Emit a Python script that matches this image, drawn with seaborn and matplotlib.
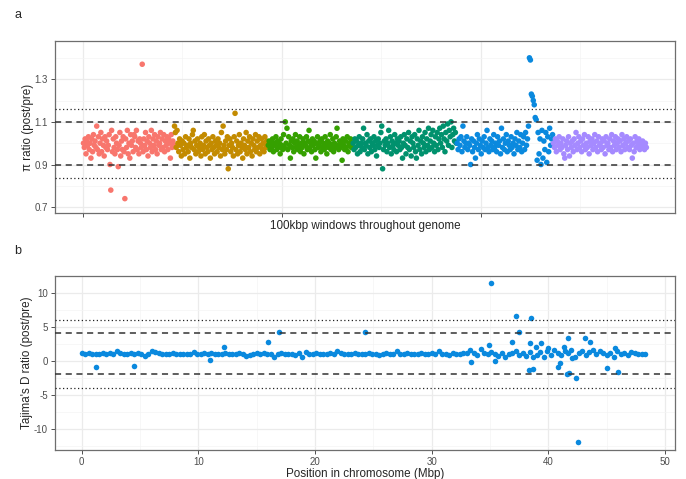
import numpy as np
import pandas as pd
import seaborn as sns
import matplotlib.pyplot as plt
from matplotlib.ticker import MultipleLocator, FixedLocator, NullFormatter

# ---------------- panel a: pi ratio in 100kbp windows ----------------
chrom_names = ['chr1', 'chr2', 'chr3', 'chr4', 'chr5', 'chr6']
chrom_windows = [458, 472, 427, 523, 485, 472]   # windows per chromosome
chrom_colors = ['#F8766D', '#C38B00', '#35A000', '#00916D', '#0A89DE', '#A58AFF']

pi_chr1 = [1.00, 0.98, 1.02, 0.95, 1.01, 0.99, 1.03, 0.97, 1.00, 0.93,
           1.02, 0.96, 1.04, 0.99, 1.01, 0.98, 1.08, 0.97, 1.03, 0.95,
           1.00, 1.05, 0.96, 1.02, 0.99, 0.94, 1.03, 0.98, 1.01, 0.97,
           0.99, 1.04, 0.90, 0.78, 1.06, 0.96, 1.02, 0.98, 0.95, 1.03,
           1.00, 0.97, 0.89, 0.99, 1.05, 0.94, 1.01, 0.97, 1.03, 0.96,
           0.74, 1.02, 0.98, 1.06, 0.95, 1.00, 0.93, 1.04, 0.99, 1.01,
           0.96, 1.04, 1.03, 0.98, 1.06, 0.97, 1.01, 0.95, 1.02, 1.00,
           0.98, 1.37, 0.96, 1.02, 0.99, 1.05, 0.97, 1.01, 0.94, 1.03,
           1.00, 0.98, 1.06, 0.96, 1.02, 0.99, 1.04, 0.97, 1.01, 0.95,
           1.03, 0.99, 1.00, 1.05, 0.97, 1.02, 0.98, 1.04, 0.96, 1.01,
           0.99, 1.03, 0.97, 1.02, 1.00, 0.93, 1.04, 0.98, 1.01, 0.99]
pi_chr2 = [1.08, 1.05, 0.98, 1.06, 1.00, 0.96, 1.02, 0.99, 0.94, 1.01,
           0.97, 1.00, 0.95, 1.03, 0.98, 0.99, 0.96, 1.02, 0.93, 1.00,
           0.98, 1.04, 1.06, 0.97, 1.01, 0.95, 0.99, 1.02, 0.96, 0.98,
           1.00, 0.94, 1.03, 0.97, 0.99, 1.04, 0.95, 1.01, 0.98, 0.96,
           1.02, 0.99, 0.93, 1.00, 0.97, 1.03, 0.98, 0.95, 1.01, 0.99,
           0.96, 1.02, 0.98, 1.00, 0.94, 1.05, 0.97, 1.08, 0.99, 0.95,
           1.01, 0.97, 1.03, 0.88, 0.99, 1.02, 0.96, 1.00, 0.98, 0.94,
           1.03, 1.14, 0.97, 1.01, 0.95, 0.99, 1.04, 0.96, 1.00, 0.98,
           0.93, 1.02, 0.99, 0.97, 1.05, 0.95, 1.01, 0.98, 1.03, 0.96,
           1.00, 0.94, 1.02, 0.99, 0.97, 1.04, 0.96, 1.01, 0.98, 1.03,
           0.95, 0.99, 1.02, 0.97, 1.00, 0.96, 1.03, 0.98, 1.01, 0.99]
pi_chr3 = [0.99, 1.01, 0.97, 1.00, 0.98, 1.02, 0.96, 1.00, 0.99, 1.03,
           0.97, 1.01, 0.98, 1.00, 0.95, 1.02, 0.99, 0.97, 1.04, 0.98,
           1.10, 1.00, 1.07, 0.97, 1.03, 0.99, 0.93, 1.01, 0.98, 1.02,
           0.96, 1.00, 1.04, 0.98, 1.01, 0.97, 0.99, 1.03, 0.96, 1.00,
           0.98, 1.02, 0.95, 1.00, 0.99, 1.03, 0.97, 1.01, 1.06, 0.98,
           1.00, 0.96, 1.02, 0.99, 1.01, 0.97, 0.93, 1.00, 1.03, 0.98,
           0.99, 1.01, 0.96, 1.02, 0.98, 1.00, 0.97, 1.03, 0.99, 0.95,
           1.01, 0.98, 1.00, 1.04, 0.97, 0.99, 1.02, 0.96, 1.00, 0.98,
           1.03, 1.07, 0.99, 0.97, 1.01, 0.98, 1.00, 0.92, 1.02, 0.99,
           0.97, 1.01, 0.98, 1.03, 0.96, 1.00, 0.99, 1.02, 0.98, 1.00]
pi_chr4 = [1.00, 0.97, 1.02, 0.98, 1.01, 0.95, 0.99, 1.03, 0.96, 1.00,
           0.98, 1.02, 1.07, 0.97, 1.00, 0.99, 1.04, 0.95, 1.01, 0.98,
           1.02, 0.96, 1.00, 0.99, 1.03, 0.97, 1.01, 0.94, 0.99, 1.02,
           0.98, 1.00, 1.05, 1.08, 0.88, 0.97, 1.01, 0.99, 1.02, 0.96,
           1.00, 1.06, 0.98, 1.03, 0.95, 1.01, 0.99, 0.97, 1.04, 1.00,
           0.96, 1.02, 0.99, 1.01, 0.97, 1.03, 0.98, 0.93, 1.00, 1.04,
           0.99, 0.95, 1.02, 0.98, 1.05, 0.97, 1.01, 0.94, 1.03, 1.00,
           0.98, 1.04, 0.96, 0.93, 1.02, 0.99, 1.06, 0.97, 1.01, 0.95,
           1.03, 1.00, 0.98, 1.05, 0.96, 1.02, 0.99, 1.07, 0.97, 1.01,
           1.04, 0.98, 1.06, 1.00, 0.96, 1.03, 0.99, 1.05, 0.97, 1.02,
           1.07, 1.00, 1.04, 0.98, 1.08, 1.02, 0.96, 1.05, 1.01, 1.09,
           0.99, 1.06, 1.03, 1.10, 0.98, 1.04, 1.07, 1.01, 1.05, 1.00]
pi_chr5 = [1.00, 0.97, 1.02, 0.99, 1.03, 0.96, 1.08, 1.01, 0.98, 1.00,
           1.03, 0.97, 1.00, 0.99, 0.90, 1.02, 0.96, 1.01, 0.98, 0.93,
           1.00, 1.04, 0.97, 1.02, 0.99, 0.95, 1.01, 0.98, 1.03, 0.97,
           1.00, 1.06, 0.98, 0.96, 1.02, 0.99, 1.01, 0.97, 1.04, 0.98,
           1.00, 0.96, 1.03, 0.99, 1.01, 0.95, 1.07, 0.98, 1.02, 0.97,
           1.00, 1.04, 0.96, 1.01, 0.99, 0.97, 1.03, 0.98, 1.00, 0.95,
           1.02, 0.99, 1.05, 0.97, 1.01, 0.98, 1.04, 0.96, 1.00, 1.03,
           0.97, 1.05, 0.99, 1.02, 1.08, 1.40, 1.39, 1.23, 1.22, 1.20,
           1.18, 1.12, 1.11, 0.92, 1.05, 0.95, 1.02, 0.90, 1.06, 0.93,
           1.01, 0.97, 1.05, 0.91, 1.03, 0.96, 1.07, 0.99, 1.02, 1.04]
pi_chr6 = [1.00, 0.98, 1.02, 0.96, 1.01, 0.99, 1.03, 0.97, 1.00, 0.98,
           1.02, 0.95, 0.93, 0.99, 1.01, 0.97, 1.03, 0.94, 1.00, 0.98,
           1.01, 0.96, 1.02, 0.99, 1.05, 0.97, 1.00, 1.03, 0.98, 1.01,
           0.96, 1.02, 0.99, 1.04, 0.97, 1.00, 0.98, 1.03, 0.95, 1.01,
           0.99, 1.02, 0.97, 1.00, 1.04, 0.98, 1.01, 0.96, 1.03, 0.99,
           1.00, 0.97, 1.02, 0.98, 1.01, 0.95, 1.03, 0.99, 1.00, 0.97,
           1.02, 0.98, 1.04, 0.96, 1.01, 0.99, 1.03, 0.97, 1.00, 1.02,
           0.98, 1.01, 0.96, 1.04, 0.99, 1.02, 0.97, 1.00, 1.03, 0.98,
           1.01, 0.97, 1.02, 0.99, 0.93, 1.00, 0.96, 1.03, 0.98, 1.01,
           0.99, 1.02, 0.97, 1.00, 0.98, 1.01, 0.99, 0.97, 1.00, 0.98]
pi_values = [pi_chr1, pi_chr2, pi_chr3, pi_chr4, pi_chr5, pi_chr6]

pi_dashed = [0.9, 1.1]
pi_dotted = [0.839, 1.158]

# ---------------- panel b: Tajima's D ratio along one chromosome ----------------
tajd_step = 0.3   # Mbp between the listed windows
tajd_band = [1.10, 1.05, 1.08, 1.02, 1.06, 1.04, 1.10, 1.03, 1.07, 1.05,
             1.40, 1.12, 1.05, 0.95, 1.08, 1.02, 1.15, 1.04, 0.70, 0.95,
             1.45, 1.30, 1.10, 1.00, 1.06, 1.03, 1.08, 0.98, 1.05, 1.02,
             0.92, 1.06, 1.25, 1.04, 1.00, 1.08, 1.03, 1.10, 1.02, 1.06,
             1.04, 1.08, 1.00, 1.06, 1.02, 1.07, 0.98, 0.70, 0.85, 1.05,
             1.08, 1.02, 1.10, 0.95, 1.05, 0.50, 1.00, 1.08, 1.03, 1.06,
             1.02, 0.90, 1.08, 0.55, 1.30, 1.05, 1.00, 1.07, 1.03, 1.06,
             1.04, 1.10, 1.00, 1.50, 1.08, 1.02, 1.06, 1.03, 1.08, 1.01,
             1.05, 1.00, 1.08, 1.03, 1.06, 0.80, 1.02, 1.07, 1.04, 1.00,
             1.40, 1.05, 1.02, 1.08, 1.00, 1.06, 1.03, 1.10, 1.04, 1.01,
             1.07, 1.02, 1.40, 1.05, 1.00, 0.80, 1.08, 1.03, 1.06, 1.10,
             1.20, 1.55, 1.10, 0.90, 1.70, 1.20, 0.95, 1.30, 1.00, 0.70,
             1.10, 0.60, 1.05, 1.20, 1.40, 0.80, 1.10, 0.70, 1.30, 0.50,
             0.90, 1.30, 0.60, 1.50, 0.80, 1.60, 1.20, 0.90, 1.40, 1.10,
             0.40, 0.60, 1.20, 1.50, 0.80, 1.30, 1.60, 1.00, 1.40, 1.10,
             0.90, 1.20, 0.60, 1.40, 1.00, 1.20, 0.80, 1.30, 1.10, 1.00,
             1.05, 1.00]
tajd_out_pos = [1.2, 4.5, 11.0, 12.2, 16.0, 16.9, 24.3, 33.4, 34.9, 35.1,
                35.45, 36.85, 37.2, 37.45, 38.3, 38.4, 38.5, 38.7, 38.9, 39.4,
                40.0, 40.8, 41.0, 41.3, 41.6, 41.7, 41.8, 41.9, 42.4, 42.5,
                43.1, 43.6, 45.0, 45.7, 46.0]
tajd_out_val = [-0.9, -0.7, 0.1, 2.05, 2.7, 4.2, 4.2, -0.15, 2.25, 11.4,
                -0.05, 2.8, 6.55, 4.2, -1.35, 2.6, 6.3, -1.2, 2.05, 2.65,
                1.8, -0.9, -0.3, 2.05, -1.9, 3.3, -1.8, 1.65, -2.6, -11.9,
                3.3, 2.8, -1.05, 1.8, -1.6]

tajd_dashed = [-2, 4]
tajd_dotted = [-4, 6]

# ---------------- build data frames ----------------
rows = []
start = 0
for name, n_win, vals in zip(chrom_names, chrom_windows, pi_values):
    step = n_win / len(vals)
    for i, v in enumerate(vals):
        rows.append({'window': start + (i + 0.5) * step, 'pi_ratio': v, 'chrom': name})
    start += n_win
pi_df = pd.DataFrame(rows)
total_windows = start

band_df = pd.DataFrame({'pos': np.arange(len(tajd_band)) * tajd_step, 'tajd': tajd_band})
out_df = pd.DataFrame({'pos': tajd_out_pos, 'tajd': tajd_out_val})
tajd_df = pd.concat([band_df, out_df], ignore_index=True)

# ---------------- styling ----------------
sns.set_theme(style='white')
plt.rcParams['font.family'] = ['Liberation Sans', 'DejaVu Sans']
plt.rcParams['axes.unicode_minus'] = False

fig = plt.figure(figsize=(6.86, 4.79), dpi=100)
ax_a = fig.add_axes([0.080, 0.555, 0.904, 0.359])
ax_b = fig.add_axes([0.080, 0.0605, 0.904, 0.3635])


def style_axes(ax):
    ax.set_axisbelow(True)
    ax.grid(which='major', color='#EBEBEB', lw=0.9)
    ax.grid(which='minor', color='#F4F4F4', lw=0.5)
    for sp in ax.spines.values():
        sp.set_visible(True)
        sp.set_color('#6E6E6E')
        sp.set_linewidth(0.9)
    ax.tick_params(which='major', length=3, width=0.6, color='#333333',
                   labelsize=7, labelcolor='#4D4D4D', pad=2,
                   bottom=True, left=True)
    ax.tick_params(which='minor', length=0)


# panel a
sns.scatterplot(data=pi_df, x='window', y='pi_ratio', hue='chrom',
                palette=chrom_colors, s=16, linewidth=0, alpha=1,
                legend=False, ax=ax_a)
for y in pi_dashed:
    ax_a.axhline(y, color='#333333', lw=1.1, ls=(0, (4, 3)), zorder=3)
for y in pi_dotted:
    ax_a.axhline(y, color='#222222', lw=0.9, ls=(0, (1, 2)), zorder=3)
ax_a.set_xlim(-0.05 * total_windows, 1.05 * total_windows)
ax_a.set_ylim(0.672, 1.478)
ax_a.xaxis.set_major_locator(FixedLocator([0, 1000, 2000]))
ax_a.xaxis.set_minor_locator(FixedLocator([500, 1500, 2500]))
ax_a.xaxis.set_major_formatter(NullFormatter())
ax_a.yaxis.set_major_locator(FixedLocator([0.7, 0.9, 1.1, 1.3]))
ax_a.yaxis.set_minor_locator(FixedLocator([0.8, 1.0, 1.2, 1.4]))
style_axes(ax_a)
ax_a.set_xlabel('100kbp windows throughout genome', fontsize=8.4, labelpad=0)
ax_a.set_ylabel('π ratio (post/pre)', fontsize=8.4, labelpad=0)

# panel b
sns.scatterplot(data=tajd_df, x='pos', y='tajd', color='#0A89DE', s=16,
                linewidth=0, legend=False, ax=ax_b)
for y in tajd_dashed:
    ax_b.axhline(y, color='#333333', lw=1.1, ls=(0, (4, 3)), zorder=3)
for y in tajd_dotted:
    ax_b.axhline(y, color='#222222', lw=0.9, ls=(0, (1, 2)), zorder=3)
ax_b.set_xlim(-2.3, 50.85)
ax_b.set_ylim(-13.1, 12.45)
ax_b.xaxis.set_major_locator(MultipleLocator(10))
ax_b.xaxis.set_minor_locator(FixedLocator([5, 15, 25, 35, 45]))
ax_b.yaxis.set_major_locator(MultipleLocator(5))
ax_b.yaxis.set_minor_locator(FixedLocator([-12.5, -7.5, -2.5, 2.5, 7.5]))
style_axes(ax_b)
ax_b.set_xlabel('Position in chromosome (Mbp)', fontsize=8.4, labelpad=1)
ax_b.set_ylabel("Tajima's D ratio (post/pre)", fontsize=8.4, labelpad=1)

fig.text(0.026, 0.969, 'a', fontsize=9, ha='center', va='center')
fig.text(0.026, 0.476, 'b', fontsize=9, ha='center', va='center')

fig.savefig('out.png', dpi=100)
